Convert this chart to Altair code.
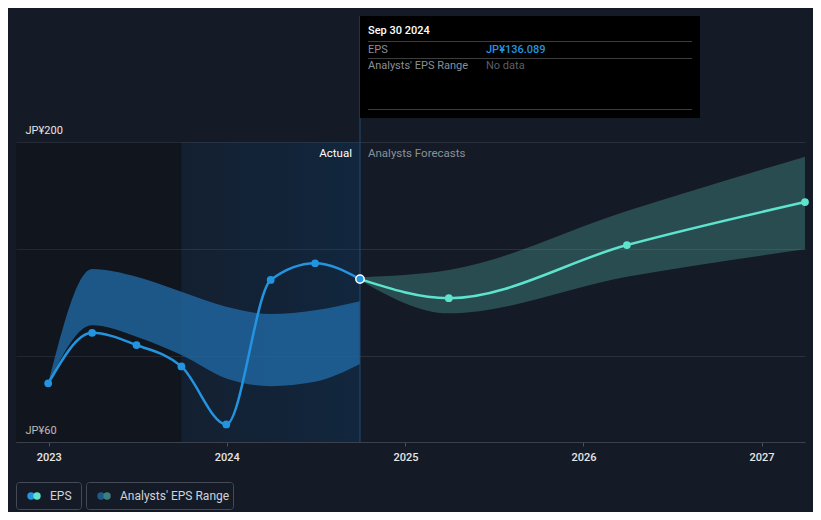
import altair as alt
import pandas as pd

# ---- data ----
actual_dates = ["2022-12-31", "2023-03-31", "2023-06-30", "2023-09-30",
                "2023-12-31", "2024-03-31", "2024-06-30", "2024-09-30"]
actual_eps = [87.4, 111.0, 105.3, 95.3, 68.2, 135.7, 143.5, 136.089]
actual_hi = [87.4, 140.8, 137.2, 130.2, 123.2, 119.8, 121.6, 125.8]
actual_lo = [87.4, 114.5, 109.2, 100.6, 89.7, 86.1, 88.1, 96.4]

fc_dates = ["2024-09-30", "2025-03-31", "2026-03-31", "2027-03-31"]
fc_eps = [136.089, 127.2, 152.0, 172.1]
fc_hi = [136.9, 140.3, 167.9, 193.3]
fc_lo = [135.6, 120.1, 137.2, 150.0]

x_start = "2022-10-26"
x_end = "2027-03-31"
split_date = "2023-09-30"
now_date = "2024-09-30"
year_ticks = [2023, 2024, 2025, 2026, 2027]
y_ticks = [60, 100, 150, 200]
y_labeled = [60, 200]

BG = "#151b26"
BLUE = "#2394df"
TEAL = "#5ee3cc"
FONT = "Roboto"

W, H = 789, 426

act = pd.DataFrame({"date": actual_dates, "eps": actual_eps, "hi": actual_hi, "lo": actual_lo})
fc = pd.DataFrame({"date": fc_dates, "eps": fc_eps, "hi": fc_hi, "lo": fc_lo})

xs = alt.Scale(domain=[alt.DateTime(year=2022, month=10, date=26),
                       alt.DateTime(year=2027, month=3, date=31)])
ys = alt.Scale(domain=[60, 259], nice=False, zero=False)

X = alt.X("date:T", scale=xs, title=None,
          axis=alt.Axis(values=[alt.DateTime(year=y, month=1, date=1) for y in year_ticks],
                        format="%Y", labelColor="#e6e6e6", labelFontSize=11, labelFont=FONT,
                        labelFontWeight=500, tickColor="#4a505c", tickSize=4,
                        domainColor="#3a404c", grid=False, labelPadding=5))
labexpr = " || ".join(f"datum.value == {v}" for v in y_labeled)
Y = alt.Y("eps:Q", scale=ys, title=None,
          axis=alt.Axis(values=y_ticks, grid=True, gridColor="#2b313c", domain=False,
                        ticks=False, tickSize=0, labelAlign="left", labelBaseline="alphabetic",
                        labelPadding=-9, labelOffset=-9, labelColor="#e6e6e6", labelFontSize=11,
                        labelFont=FONT,
                        labelExpr=f"({labexpr}) ? 'JP¥' + datum.value : ''"))

regions = pd.DataFrame({"x": [x_start, split_date], "x2": [split_date, now_date],
                        "lo": [60, 60], "hi": [200, 200], "k": ["past", "recent"]})

past = alt.Chart(regions[regions.k == "past"]).mark_rect(color="#000000", opacity=0.2).encode(
    x=alt.X("x:T", scale=xs), x2="x2:T", y=alt.Y("lo:Q", scale=ys), y2="hi:Q")
recent = alt.Chart(regions[regions.k == "recent"]).mark_rect(
    color=alt.Gradient(gradient="linear", x1=0, x2=1, y1=0, y2=0,
                       stops=[alt.GradientStop(color="rgba(10,60,110,0.15)", offset=0),
                              alt.GradientStop(color="rgba(10,62,112,0.32)", offset=1)])).encode(
    x=alt.X("x:T", scale=xs), x2="x2:T", y=alt.Y("lo:Q", scale=ys), y2="hi:Q")

base_axes = alt.Chart(act).mark_line(opacity=0).encode(x=X, y=Y)

band_act = alt.Chart(act).mark_area(interpolate="monotone", color="#2068a3", opacity=0.8).encode(
    x=alt.X("date:T", scale=xs), y=alt.Y("hi:Q", scale=ys), y2="lo:Q")
band_fc = alt.Chart(fc).mark_area(interpolate="monotone", color="#4fa8a0", opacity=0.35).encode(
    x=alt.X("date:T", scale=xs), y=alt.Y("hi:Q", scale=ys), y2="lo:Q")

line_act = alt.Chart(act).mark_line(interpolate="monotone", color=BLUE, strokeWidth=2.5).encode(
    x=alt.X("date:T", scale=xs), y=alt.Y("eps:Q", scale=ys))
pts_act = alt.Chart(act.iloc[:-1]).mark_circle(color=BLUE, size=60, opacity=1).encode(
    x=alt.X("date:T", scale=xs), y=alt.Y("eps:Q", scale=ys))
line_fc = alt.Chart(fc).mark_line(interpolate="monotone", color=TEAL, strokeWidth=2.5).encode(
    x=alt.X("date:T", scale=xs), y=alt.Y("eps:Q", scale=ys))
pts_fc = alt.Chart(fc.iloc[1:]).mark_circle(color=TEAL, size=60, opacity=1).encode(
    x=alt.X("date:T", scale=xs), y=alt.Y("eps:Q", scale=ys))

now_df = pd.DataFrame({"date": [now_date], "eps": [actual_eps[-1]]})
vline = alt.Chart(now_df).mark_rule(color="#1f4d78", strokeWidth=1).encode(
    x=alt.X("date:T", scale=xs), y=alt.value(0), y2=alt.value(H))
now_pt = alt.Chart(now_df).mark_point(filled=True, fill=BLUE, stroke="#ffffff", strokeWidth=1.5,
                                      size=70, opacity=1).encode(
    x=alt.X("date:T", scale=xs), y=alt.Y("eps:Q", scale=ys))

lbl_actual = alt.Chart(now_df).mark_text(align="right", baseline="middle", dx=-8, color="#ffffff",
                                         fontSize=11.5, font=FONT).encode(
    x=alt.X("date:T", scale=xs), y=alt.value(138), text=alt.value("Actual"))
lbl_fc = alt.Chart(now_df).mark_text(align="left", baseline="middle", dx=8, color="#8a9099",
                                     fontSize=11.5, font=FONT).encode(
    x=alt.X("date:T", scale=xs), y=alt.value(138), text=alt.value("Analysts Forecasts"))

# ---- tooltip box ----
tip_rows = ["Sep 30 2024", "EPS", "Analysts' EPS Range"]
tip_vals = ["JP¥136.089", "No data"]
one = pd.DataFrame({"a": [0]})
tip_box = alt.Chart(one).mark_rect(color="#000000").encode(
    x=alt.value(344), x2=alt.value(684), y=alt.value(0), y2=alt.value(102))
tip_lines = [alt.Chart(one).mark_rule(color="#3d3d3d").encode(
    x=alt.value(352), x2=alt.value(676), y=alt.value(yy)) for yy in (25.5, 42.5, 93.5)]
tip_title = alt.Chart(one).mark_text(align="left", baseline="middle", color="#ffffff", fontSize=11,
                                     font=FONT, fontWeight=500).encode(
    x=alt.value(352), y=alt.value(15), text=alt.value(tip_rows[0]))
tip_eps = alt.Chart(one).mark_text(align="left", baseline="middle", color="#8a8f98", fontSize=11,
                                   font=FONT).encode(
    x=alt.value(352), y=alt.value(33.5), text=alt.value(tip_rows[1]))
tip_rng = alt.Chart(one).mark_text(align="left", baseline="middle", color="#8a8f98", fontSize=11,
                                   font=FONT).encode(
    x=alt.value(352), y=alt.value(50), text=alt.value(tip_rows[2]))
tip_v1 = alt.Chart(one).mark_text(align="left", baseline="middle", color=BLUE, fontSize=11,
                                  font=FONT, fontWeight=500).encode(
    x=alt.value(470), y=alt.value(33.5), text=alt.value(tip_vals[0]))
tip_v2 = alt.Chart(one).mark_text(align="left", baseline="middle", color="#5b5f66", fontSize=11,
                                  font=FONT).encode(
    x=alt.value(470), y=alt.value(50), text=alt.value(tip_vals[1]))

# ---- legend ----
leg_names = ["EPS", "Analysts' EPS Range"]
leg_box1 = alt.Chart(one).mark_rect(fill=BG, stroke="#454b56", strokeWidth=1, cornerRadius=3).encode(
    x=alt.value(0.5), x2=alt.value(65.5), y=alt.value(466.5), y2=alt.value(493.5))
leg_box2 = alt.Chart(one).mark_rect(fill=BG, stroke="#454b56", strokeWidth=1, cornerRadius=3).encode(
    x=alt.value(70.5), x2=alt.value(217.5), y=alt.value(466.5), y2=alt.value(493.5))
leg_dots = []
for xx, col in ((15, BLUE), (21, TEAL), (85, "#1d5a8a"), (91, "#3d7f7f")):
    leg_dots.append(alt.Chart(one).mark_circle(color=col, size=55, opacity=1).encode(
        x=alt.value(xx), y=alt.value(480)))
leg_t1 = alt.Chart(one).mark_text(align="left", baseline="middle", color="#d0d3d8", fontSize=12,
                                  font=FONT).encode(
    x=alt.value(34), y=alt.value(480), text=alt.value(leg_names[0]))
leg_t2 = alt.Chart(one).mark_text(align="left", baseline="middle", color="#d0d3d8", fontSize=12,
                                  font=FONT).encode(
    x=alt.value(104), y=alt.value(480), text=alt.value(leg_names[1]))

chart = alt.layer(
    past, recent, base_axes, band_act, band_fc, vline, line_act, pts_act, line_fc, pts_fc, now_pt,
    lbl_actual, lbl_fc, tip_box, *tip_lines, tip_title, tip_eps, tip_rng, tip_v1, tip_v2,
    leg_box1, leg_box2, *leg_dots, leg_t1, leg_t2
).properties(
    width=W, height=H,
    autosize=alt.AutoSizeParams(type="none"),
    padding={"left": 8, "top": 8, "right": 8, "bottom": 70},
    background=BG,
).configure_view(stroke=None)

chart.save("out.html", embed_options={"renderer": "svg", "actions": False})
